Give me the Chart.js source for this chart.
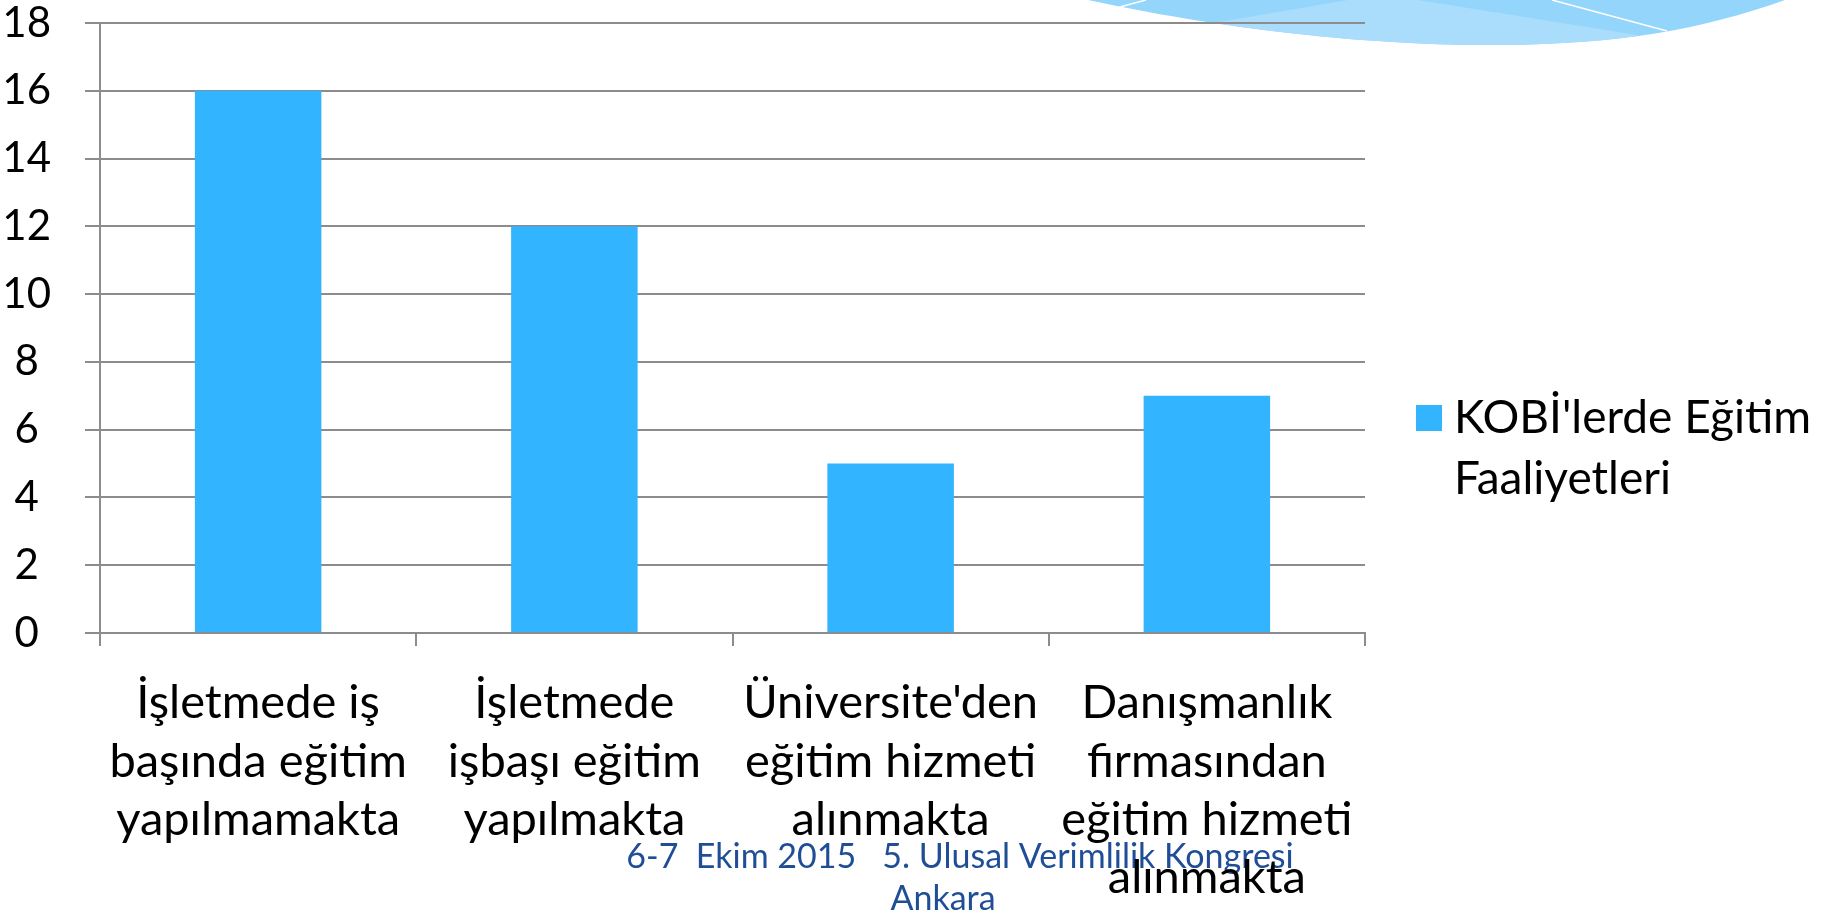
<!DOCTYPE html>
<html>
<head>
<meta charset="utf-8">
<script src="https://cdn.jsdelivr.net/npm/chart.js@4.4.1/dist/chart.umd.min.js"></script>
<style>
  html, body { margin: 0; padding: 0; background: #fff; }
  #wrap { width: 1830px; height: 914px; position: relative; }
</style>
</head>
<body>
<div id="wrap"><canvas id="c" width="1830" height="914"></canvas></div>
<script>
"use strict";

var categories = [
    ["İşletmede iş", "başında eğitim", "yapılmamakta"],
    ["İşletmede", "işbaşı eğitim", "yapılmakta"],
    ["Üniversite'den", "eğitim hizmeti", "alınmakta"],
    ["Danışmanlık", "firmasından", "eğitim hizmeti", "alınmakta"]
];
var seriesName = "KOBİ'lerde Eğitim Faaliyetleri";
var seriesValues = [16, 12, 5, 7];
var yMin = 0, yMax = 18, yStep = 2;
var footerLines = ["6-7  Ekim 2015   5. Ulusal Verimlilik Kongresi", "Ankara"];

var FONT = "Lato, 'Open Sans', sans-serif";
var barColor = "#32B4FE";
var gridColor = "#8c8c8c";

// slide background swoosh in the top right corner + footer
var decoration = {
    id: "decoration",
    beforeDraw: function(chart) {
        var ctx = chart.ctx;
        ctx.save();
        ctx.beginPath();
        ctx.moveTo(1088, 0);
        ctx.bezierCurveTo(1250, 35, 1400, 46, 1500, 45);
        ctx.bezierCurveTo(1620, 44, 1700, 30, 1785, 0);
        ctx.closePath();
        ctx.fillStyle = "#94d5fb";
        ctx.fill();
        ctx.clip();
        ctx.beginPath();
        ctx.moveTo(1219, 22);
        ctx.lineTo(1348, 0);
        ctx.lineTo(1418, 0);
        ctx.lineTo(1637, 35);
        ctx.lineTo(1637, 60);
        ctx.lineTo(1219, 60);
        ctx.closePath();
        ctx.fillStyle = "#a9ddfb";
        ctx.fill();
        ctx.strokeStyle = "#ffffff";
        ctx.lineWidth = 1.5;
        ctx.beginPath();
        ctx.moveTo(1112, 9);
        ctx.lineTo(1146, 0);
        ctx.moveTo(1552, 0);
        ctx.lineTo(1667, 31);
        ctx.stroke();
        ctx.restore();

        ctx.save();
        ctx.fillStyle = "#1F4E97";
        ctx.font = "34px " + FONT;
        ctx.textAlign = "center";
        ctx.textBaseline = "middle";
        ctx.fillText(footerLines[0], 960, 857);
        ctx.fillText(footerLines[1], 943, 899);
        ctx.restore();
    }
};

// legend on the right, wrapped over two lines
var sideLegend = {
    id: "sideLegend",
    afterDraw: function(chart) {
        var ctx = chart.ctx;
        var ds = chart.data.datasets[0];
        ctx.save();
        ctx.font = "46px " + FONT;
        ctx.textBaseline = "middle";
        ctx.fillStyle = "#000";
        var words = ds.label.split(" ");
        var lines = [], cur = "";
        words.forEach(function(w) {
            var t = cur ? cur + " " + w : w;
            if (ctx.measureText(t).width > 375 && cur) { lines.push(cur); cur = w; }
            else cur = t;
        });
        lines.push(cur);
        lines.forEach(function(l, i) {
            ctx.fillText(l, 1454, 418 + i * 61);
        });
        ctx.fillStyle = ds.backgroundColor;
        ctx.fillRect(1416, 405, 26, 26);
        ctx.restore();
    }
};

new Chart(document.getElementById("c"), {
    type: "bar",
    data: {
        labels: categories,
        datasets: [{
            label: seriesName,
            data: seriesValues,
            backgroundColor: barColor,
            borderWidth: 0,
            categoryPercentage: 0.8,
            barPercentage: 0.5
        }]
    },
    options: {
        responsive: false,
        animation: false,
        layout: { padding: { left: 0, top: 0, right: 465, bottom: 0 } },
        plugins: {
            legend: { display: false },
            tooltip: { enabled: false }
        },
        scales: {
            x: {
                afterFit: function(s) { s.height = 281; },
                grid: {
                    offset: true,
                    drawOnChartArea: false,
                    color: gridColor,
                    lineWidth: 2,
                    tickLength: 13
                },
                border: { color: gridColor, width: 2 },
                ticks: {
                    color: "#000",
                    padding: 28,
                    maxRotation: 0,
                    autoSkip: false,
                    font: { family: FONT, size: 47, lineHeight: 1.24 }
                }
            },
            y: {
                min: yMin,
                max: yMax,
                afterFit: function(s) {
                    s.width = 100;
                    s.paddingTop = 23;
                    s.paddingBottom = 0;
                },
                grid: { color: gridColor, lineWidth: 2, tickLength: 15 },
                border: { color: gridColor, width: 2 },
                ticks: {
                    stepSize: yStep,
                    color: "#000",
                    padding: 34,
                    crossAlign: "center",
                    font: { family: FONT, size: 42 }
                }
            }
        }
    },
    plugins: [decoration, sideLegend]
});
</script>
</body>
</html>
